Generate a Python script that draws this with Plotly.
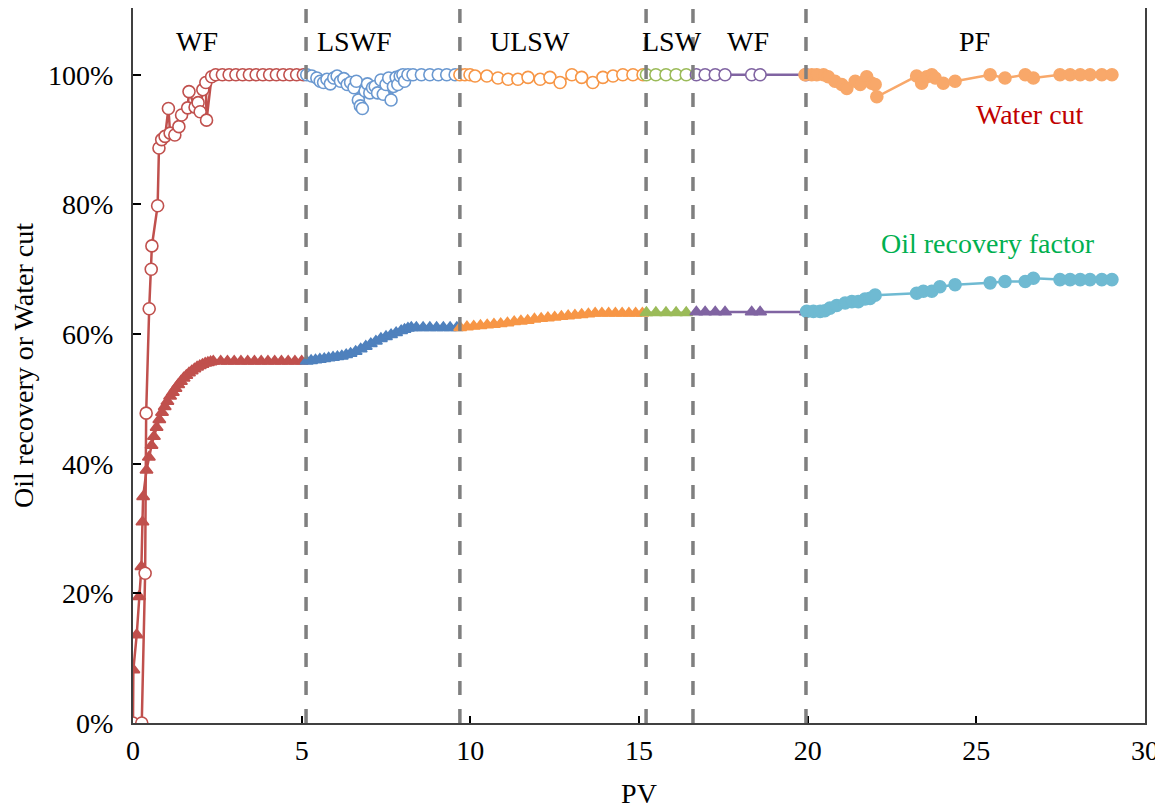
import plotly.graph_objects as go

# ---------------- data ----------------
# Water cut (%) per flooding stage
wf1_wc_pv = [0, 0.26, 0.36, 0.39, 0.48, 0.54, 0.56, 0.73, 0.77, 0.85, 0.95, 1.05, 1.10, 1.24, 1.36,
             1.44, 1.62, 1.66, 1.84, 1.93, 1.99, 2.07, 2.16, 2.18, 2.33, 2.45, 2.65, 2.85, 3.05, 3.25,
             3.45, 3.65, 3.85, 4.05, 4.25, 4.45, 4.65, 4.85, 5.05]
wf1_wc = [0, 0, 23.1, 47.8, 63.9, 70.0, 73.6, 79.8, 88.7, 90.0, 90.5, 94.8, 91.0, 90.7, 92.0,
          93.8, 94.9, 97.4, 95.0, 95.7, 94.3, 97.7, 98.8, 93.0, 99.7, 100, 100, 100, 100, 100,
          100, 100, 100, 100, 100, 100, 100, 100, 100]

lswf_wc_pv = [5.15, 5.3, 5.45, 5.55, 5.65, 5.75, 5.85, 5.95, 6.05, 6.15, 6.25, 6.35, 6.45, 6.55, 6.62,
              6.68, 6.74, 6.8, 6.88, 6.95, 7.02, 7.1, 7.18, 7.25, 7.35, 7.42, 7.5, 7.58, 7.65, 7.72,
              7.8, 7.85, 7.92, 8.0, 8.05, 8.15, 8.3, 8.55, 8.8, 9.05, 9.3, 9.55]
lswf_wc = [100, 99.8, 99.5, 99.0, 98.8, 99.3, 98.6, 99.5, 99.8, 99.0, 99.4, 98.5, 98.8, 98.0, 99.0,
           96.1, 95.2, 94.8, 97.5, 98.6, 97.2, 98.0, 98.2, 97.2, 99.2, 97.0, 98.5, 99.5, 96.1, 98.2,
           99.6, 98.5, 99.8, 100, 99.0, 100, 100, 100, 100, 100, 100, 100]

ulsw_wc_pv = [9.69, 9.84, 9.99, 10.14, 10.49, 10.82, 11.12, 11.41, 11.71, 12.07, 12.36, 12.66, 13.01,
              13.3, 13.63, 13.93, 14.23, 14.52, 14.82, 15.12]
ulsw_wc = [100, 100, 100, 99.8, 99.8, 99.5, 99.3, 99.3, 99.6, 99.3, 99.6, 98.8, 100,
           99.6, 98.8, 99.6, 99.8, 100, 100, 100]

lsw_wc_pv = [15.22, 15.5, 15.8, 16.1, 16.4]
lsw_wc = [100, 100, 100, 100, 100]

wf2_wc_pv = [16.7, 16.96, 17.26, 17.55, 18.34, 18.59, 19.95]
wf2_wc = [100, 100, 100, 100, 100, 100, 100]

pf_wc_pv = [19.92, 20.12, 20.27, 20.47, 20.61, 20.81, 21.01, 21.16, 21.41, 21.56, 21.75, 21.9, 22.0,
            22.05, 23.23, 23.38, 23.53, 23.68, 23.78, 24.02, 24.37, 25.41, 25.85, 26.45, 26.69,
            27.48, 27.78, 28.08, 28.37, 28.72, 29.02]
pf_wc = [100, 100, 100, 100, 99.7, 99.0, 98.5, 97.9, 99.0, 98.5, 99.7, 98.7, 98.5,
         96.6, 99.8, 98.7, 99.7, 100, 99.5, 98.7, 99.0, 100, 99.5, 100, 99.5,
         100, 100, 100, 100, 100, 100]

# Oil recovery factor (%) per flooding stage
wf1_or_pv = [0, 0.01, 0.11, 0.18, 0.25, 0.28, 0.30, 0.40, 0.47, 0.55, 0.62, 0.70, 0.78, 0.86, 0.94,
             1.02, 1.10, 1.18, 1.26, 1.34, 1.42, 1.50, 1.58, 1.66, 1.74, 1.82, 1.90, 1.98, 2.06,
             2.14, 2.22, 2.30, 2.38, 2.6, 2.8, 3.0, 3.2, 3.4, 3.6, 3.8, 4.0, 4.2, 4.4, 4.6, 4.8, 5.0]
wf1_or = [0, 8.2, 13.6, 19.5, 24.1, 31.0, 34.9, 39.0, 41.0, 42.8, 44.2, 45.6, 46.8, 47.9, 48.8,
          49.6, 50.4, 51.0, 51.6, 52.2, 52.7, 53.2, 53.6, 54.0, 54.3, 54.6, 54.9, 55.1, 55.3,
          55.5, 55.6, 55.7, 55.8, 55.8, 55.8, 55.8, 55.8, 55.8, 55.8, 55.8, 55.8, 55.8, 55.8, 55.8,
          55.8, 55.8]

lswf_or_pv = [5.15, 5.28, 5.41, 5.54, 5.67, 5.8, 5.93, 6.06, 6.19, 6.32, 6.45, 6.6, 6.75, 6.9, 7.05,
              7.2, 7.35, 7.5, 7.65, 7.8, 7.95, 8.05, 8.15, 8.25, 8.4, 8.6, 8.8, 9.0, 9.2, 9.4, 9.6]
lswf_or = [55.8, 55.9, 56.0, 56.1, 56.2, 56.3, 56.4, 56.5, 56.6, 56.8, 57.0, 57.3, 57.7, 58.1, 58.5,
           58.9, 59.3, 59.6, 59.9, 60.2, 60.5, 60.7, 60.9, 61.0, 61.0, 61.0, 61.0, 61.0, 61.0, 61.0, 61.0]

ulsw_or_pv = [9.7, 9.9, 10.1, 10.3, 10.5, 10.7, 10.9, 11.1, 11.3, 11.5, 11.7, 11.9, 12.1, 12.3,
              12.5, 12.7, 12.9, 13.1, 13.3, 13.5, 13.7, 13.9, 14.1, 14.3, 14.5, 14.7, 14.9, 15.1]
ulsw_or = [61.0, 61.1, 61.2, 61.3, 61.4, 61.5, 61.6, 61.7, 61.9, 62.0, 62.1, 62.3, 62.4, 62.5,
           62.6, 62.7, 62.8, 62.9, 63.0, 63.1, 63.2, 63.2, 63.2, 63.2, 63.2, 63.2, 63.2, 63.2]

lsw_or_pv = [15.22, 15.5, 15.8, 16.1, 16.4]
lsw_or = [63.3, 63.3, 63.3, 63.3, 63.3]

wf2_or_pv = [16.7, 16.96, 17.26, 17.55, 18.34, 18.59, 19.95]
wf2_or = [63.4, 63.4, 63.4, 63.4, 63.4, 63.4, 63.4]

pf_or_pv = [19.97, 20.17, 20.37, 20.51, 20.66, 20.86, 21.11, 21.31, 21.5, 21.7, 21.85, 22.0, 23.23,
            23.43, 23.68, 23.92, 24.37, 25.41, 25.85, 26.45, 26.69, 27.48, 27.78, 28.08, 28.37,
            28.72, 29.02]
pf_or = [63.5, 63.5, 63.5, 63.6, 64.0, 64.4, 64.8, 65.0, 65.0, 65.4, 65.5, 66.0, 66.3,
         66.6, 66.6, 67.3, 67.6, 67.9, 68.1, 68.1, 68.6, 68.4, 68.4, 68.4, 68.4, 68.4, 68.4]

stage_bounds = [5.13, 9.69, 15.21, 16.6, 19.95]
stage_names = ["WF", "LSWF", "ULSW", "LSW", "WF", "PF"]
stage_label_pv = [1.9, 6.58, 11.77, 15.98, 18.23, 24.96]

x_ticks = [0, 5, 10, 15, 20, 25, 30]
x_tick_labels = ["0", "5", "10", "15", "20", "25", "30"]
y_ticks = [0, 20, 40, 60, 80, 100]
y_tick_labels = ["0%", "20%", "40%", "60%", "80%", "100%"]

# ---------------- styling ----------------
FONT = "Liberation Serif, Times New Roman, serif"
FS = 28
C_RED = "#C0504D"
C_BLUE = "#4F81BD"
C_BLUE_L = "#6A98D0"
C_ORANGE = "#F79646"
C_GREEN = "#9BBB59"
C_PURPLE = "#8064A2"
C_PF_WC = "#F8A86A"
C_PF_OR = "#6FBAD2"

fig = go.Figure()

def add_series(x, y, color, symbol, filled, size=11, lw=2.5):
    fig.add_trace(go.Scatter(
        x=x, y=y, mode="lines+markers",
        line=dict(color=color, width=lw),
        marker=dict(symbol=symbol, size=size,
                    color=color if filled else "white",
                    line=dict(color=color, width=1.6)),
        showlegend=False, hoverinfo="x+y"))

# oil recovery (filled triangles / PF filled circles)
add_series(wf1_or_pv, wf1_or, C_RED, "triangle-up", True, 11)
add_series(lswf_or_pv, lswf_or, C_BLUE, "triangle-up", True, 11)
add_series(ulsw_or_pv, ulsw_or, C_ORANGE, "triangle-up", True, 11)
add_series(lsw_or_pv, lsw_or, C_GREEN, "triangle-up", True, 11)
add_series(wf2_or_pv, wf2_or, C_PURPLE, "triangle-up", True, 11)
add_series(pf_or_pv, pf_or, C_PF_OR, "circle", True, 12)

# water cut (open circles / PF filled circles)
add_series(wf1_wc_pv, wf1_wc, C_RED, "circle", False, 12)
add_series(lswf_wc_pv, lswf_wc, C_BLUE_L, "circle", False, 12)
add_series(ulsw_wc_pv, ulsw_wc, C_ORANGE, "circle", False, 12)
add_series(lsw_wc_pv, lsw_wc, C_GREEN, "circle", False, 12)
add_series(wf2_wc_pv, wf2_wc, C_PURPLE, "circle", False, 12)
add_series(pf_wc_pv, pf_wc, C_PF_WC, "circle", True, 12)

# stage boundaries
for xb in stage_bounds:
    fig.add_shape(type="line", xref="x", yref="paper", x0=xb, x1=xb, y0=0, y1=1,
                  line=dict(color="#7F7F7F", width=3.5, dash="14px,14px"), layer="above")

for name, xp in zip(stage_names, stage_label_pv):
    fig.add_annotation(x=xp, y=105.1, xref="x", yref="y", text=name, showarrow=False,
                       font=dict(family=FONT, size=FS, color="black"))

fig.add_annotation(x=26.6, y=93.8, xref="x", yref="y", text="Water cut", showarrow=False,
                   font=dict(family=FONT, size=FS, color="#C00000"))
fig.add_annotation(x=25.35, y=73.9, xref="x", yref="y", text="Oil recovery factor", showarrow=False,
                   font=dict(family=FONT, size=FS, color="#00B050"))

# page body has an 8px margin, so the figure is sized to fit the window from (8, 8)
fig.update_layout(
    width=1155, height=801,
    margin=dict(l=125, r=18, t=0, b=86, autoexpand=False),
    paper_bgcolor="white", plot_bgcolor="white",
    font=dict(family=FONT, size=FS, color="black"),
    xaxis=dict(range=[0, 30], tickvals=x_ticks, ticktext=x_tick_labels, ticks="inside",
               ticklen=7, tickwidth=1.5, automargin=False,
               tickcolor="black", showgrid=False, zeroline=False, showline=True,
               linecolor="#404040", linewidth=2, mirror=True,
               ticklabelstandoff=1,
               title=dict(text="PV", standoff=20, font=dict(family=FONT, size=FS)),
               tickfont=dict(family=FONT, size=FS, color="black")),
    yaxis=dict(range=[0, 110.3], tickvals=y_ticks, ticktext=y_tick_labels, ticks="inside",
               ticklen=8, automargin=False,
               tickwidth=1.5, tickcolor="black", showgrid=False, zeroline=False, showline=True,
               linecolor="#404040", linewidth=2, mirror=True,
               ticklabelstandoff=12,
               title=dict(text="Oil recovery or Water cut", standoff=10,
                          font=dict(family=FONT, size=FS)),
               tickfont=dict(family=FONT, size=FS, color="black")),
)

fig.write_html("out.html")
